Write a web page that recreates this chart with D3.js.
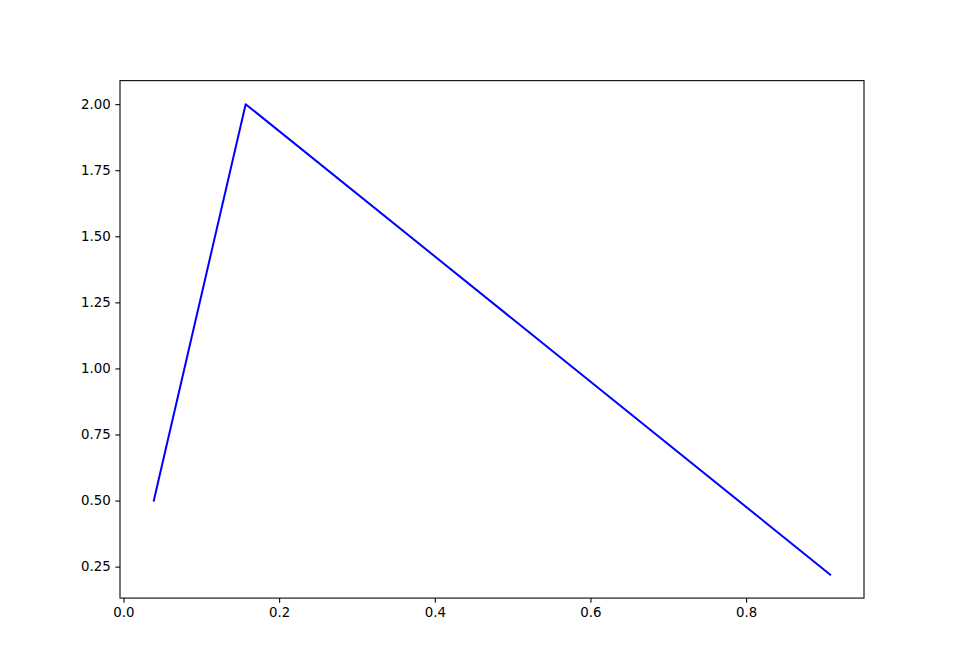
<!DOCTYPE html>
<html><head><meta charset="utf-8">
<script src="https://cdn.jsdelivr.net/npm/d3@7"></script>
<style>body{margin:0;background:#fff}svg{display:block}</style>
</head><body>
<script>
const xValues = [0.039, 0.157, 0.908];
const yValues = [0.5, 2.0, 0.22];
const xTicks = [0.0, 0.2, 0.4, 0.6, 0.8];
const yTicks = [0.25, 0.50, 0.75, 1.00, 1.25, 1.50, 1.75, 2.00];

(function(){
const W = 960, H = 672;
const mLeft = 120, mRight = 864, mTop = 80.64, mBottom = 598.08;
const svg = d3.select("body").append("svg").attr("width", W).attr("height", H);

function pad(ext){ const s = ext[1]-ext[0]; return [ext[0]-0.05*s, ext[1]+0.05*s]; }
const x = d3.scaleLinear().domain(pad(d3.extent(xValues))).range([mLeft, mRight]);
const y = d3.scaleLinear().domain(pad(d3.extent(yValues))).range([mBottom, mTop]);

const data = xValues.map((v,i)=>[v, yValues[i]]);

const font = "DejaVu Sans, sans-serif";
const xAxis = svg.append("g").attr("transform", `translate(0,${mBottom})`)
  .call(d3.axisBottom(x).tickValues(xTicks).tickFormat(d3.format(".1f")).tickSizeInner(4.67).tickSizeOuter(0).tickPadding(4.67));
const yAxis = svg.append("g").attr("transform", `translate(${mLeft},0)`)
  .call(d3.axisLeft(y).tickValues(yTicks).tickFormat(d3.format(".2f")).tickSizeInner(4.67).tickSizeOuter(0).tickPadding(4.67));
[xAxis, yAxis].forEach(g=>{
  g.select(".domain").remove();
  g.selectAll("text").attr("font-family", font).attr("font-size", "13.33px").attr("fill", "#000");
  g.selectAll("line").attr("stroke", "#000").attr("stroke-width", 1.07);
});

svg.append("path").datum(data)
  .attr("fill", "none").attr("stroke", "#0000ff").attr("stroke-width", 2)
  .attr("stroke-linejoin", "round").attr("stroke-linecap", "square")
  .attr("d", d3.line().x(d=>x(d[0])).y(d=>y(d[1])));

svg.append("rect").attr("x", mLeft).attr("y", mTop).attr("width", mRight-mLeft).attr("height", mBottom-mTop)
  .attr("fill", "none").attr("stroke", "#000").attr("stroke-width", 1.07);
})();
</script>
</body></html>
